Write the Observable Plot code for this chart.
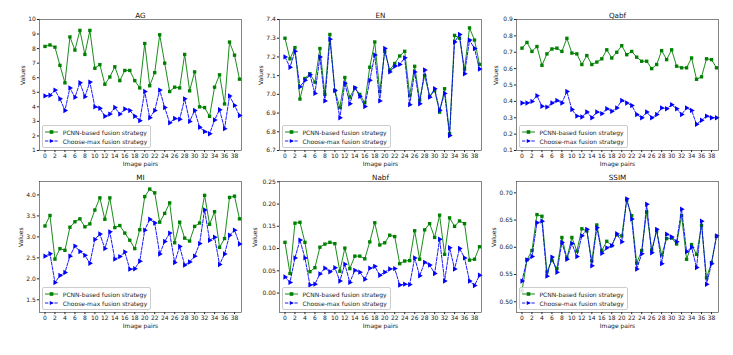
<!DOCTYPE html>
<html><head><meta charset="utf-8">
<script src="https://cdn.jsdelivr.net/npm/d3@7"></script>
<script src="https://cdn.jsdelivr.net/npm/@observablehq/plot@0.6"></script>
<style>
body{margin:0;background:#fff;font-family:"DejaVu Sans",sans-serif;}
#fig{position:relative;width:733px;height:355px;overflow:hidden;}
.panel{position:absolute;}
.legend{position:absolute;border:0.6px solid #ccc;border-radius:2px;background:rgba(255,255,255,0.85);font-size:6px;color:#222;padding:1.5px 3px 1.5px 2px;line-height:9px;white-space:nowrap;}
.legend .row{display:flex;align-items:center;height:9px;}
.legend svg{margin-right:4.5px;}
</style>
</head><body>
<div id="fig"></div>
<script>
const imagePairs = [0,1,2,3,4,5,6,7,8,9,10,11,12,13,14,15,16,17,18,19,20,21,22,23,24,25,26,27,28,29,30,31,32,33,34,35,36,37,38,39];
const xTicks = [0,2,4,6,8,10,12,14,16,18,20,22,24,26,28,30,32,34,36,38];
const seriesNames = ["PCNN-based fusion strategy", "Choose-max fusion strategy"];

const agPCNN = [8.15,8.25,8.1,6.85,5.65,8.8,7.9,9.25,7.6,9.25,6.65,6.9,5.55,6.05,6.75,5.8,6.5,6.5,5.8,5.3,8.35,5.45,6.35,8.95,7.0,5.05,5.35,5.3,7.6,5.1,6.4,4.0,3.95,3.35,5.35,6.2,4.2,8.45,7.55,5.9];
const agMax  = [4.75,4.8,5.15,4.55,3.75,5.3,4.65,5.65,4.7,5.7,4.0,3.9,3.35,3.5,3.95,3.5,3.85,3.75,3.35,3.05,5.05,3.25,3.75,5.15,3.95,2.9,3.2,3.15,4.55,3.0,3.75,2.6,2.3,2.15,3.1,3.8,2.5,4.75,4.1,3.4];
const agTicks = [1,2,3,4,5,6,7,8,9,10];

const enPCNN = [7.30,7.19,7.25,6.975,7.085,7.11,7.065,7.245,7.0,7.32,7.02,6.93,7.09,6.985,7.035,7.0,6.955,7.145,7.28,7.015,7.23,7.13,7.165,7.205,7.23,6.995,7.15,6.97,7.10,6.99,7.02,6.905,7.03,6.79,7.315,7.30,7.135,7.355,7.29,7.16];
const enMax  = [7.20,7.145,7.23,7.04,7.075,7.105,7.005,7.20,6.965,7.295,7.02,6.875,7.06,6.95,7.035,6.99,6.935,7.075,7.21,6.965,7.245,7.12,7.15,7.16,7.195,6.945,7.12,6.95,7.13,6.985,7.03,6.915,7.005,6.78,7.28,7.32,7.11,7.29,7.245,7.135];
const enTicks = [6.7,6.8,6.9,7.0,7.1,7.2,7.3,7.4];

const qabfPCNN = [0.725,0.76,0.705,0.735,0.62,0.69,0.72,0.725,0.705,0.785,0.695,0.69,0.625,0.68,0.625,0.64,0.66,0.715,0.665,0.70,0.74,0.685,0.705,0.67,0.645,0.645,0.60,0.625,0.71,0.655,0.715,0.615,0.605,0.605,0.665,0.535,0.55,0.66,0.655,0.605];
const qabfMax  = [0.39,0.39,0.40,0.435,0.37,0.365,0.39,0.405,0.39,0.46,0.35,0.31,0.305,0.335,0.30,0.335,0.325,0.355,0.34,0.36,0.405,0.39,0.375,0.32,0.30,0.335,0.30,0.32,0.36,0.355,0.38,0.355,0.32,0.36,0.345,0.26,0.285,0.31,0.30,0.30];
const qabfTicks = [0.1,0.2,0.3,0.4,0.5,0.6,0.7,0.8,0.9];

const miPCNN = [3.26,3.51,2.47,2.72,2.68,3.23,3.36,3.43,3.24,3.31,3.64,3.93,3.42,3.93,3.22,3.27,3.09,2.92,2.72,3.17,3.96,4.14,4.05,3.35,3.56,3.81,2.86,3.35,2.97,2.90,3.25,3.33,3.99,3.30,3.60,2.75,2.96,3.94,3.97,3.43];
const miMax  = [2.54,2.60,1.91,2.08,2.15,2.54,2.78,2.65,2.56,2.37,2.94,3.07,2.72,3.12,2.47,2.53,2.64,2.23,2.24,2.42,3.16,3.42,3.33,2.59,2.89,3.09,2.39,2.77,2.33,2.40,2.54,2.84,3.64,2.92,2.99,2.34,2.59,3.04,3.16,2.83];
const miTicks = [1.5,2.0,2.5,3.0,3.5,4.0];

const nabfPCNN = [0.114,0.044,0.157,0.159,0.114,0.048,0.057,0.103,0.110,0.114,0.111,0.049,0.101,0.055,0.083,0.083,0.077,0.115,0.158,0.108,0.113,0.130,0.127,0.066,0.072,0.073,0.140,0.076,0.142,0.156,0.125,0.175,0.087,0.169,0.150,0.162,0.156,0.074,0.076,0.104];
const nabfMax  = [0.036,0.024,0.079,0.119,0.079,0.018,0.020,0.043,0.056,0.048,0.057,0.027,0.065,0.024,0.051,0.047,0.031,0.056,0.060,0.040,0.047,0.054,0.055,0.018,0.020,0.019,0.079,0.039,0.069,0.063,0.044,0.121,0.027,0.102,0.054,0.100,0.079,0.027,0.017,0.040];
const nabfTicks = [0.00,0.05,0.10,0.15,0.20,0.25];

const ssimPCNN = [0.520,0.577,0.594,0.660,0.657,0.555,0.576,0.561,0.618,0.580,0.618,0.593,0.634,0.630,0.575,0.641,0.594,0.611,0.603,0.623,0.621,0.687,0.658,0.571,0.594,0.665,0.595,0.630,0.586,0.616,0.617,0.606,0.658,0.578,0.605,0.587,0.640,0.544,0.572,0.620];
const ssimMax  = [0.538,0.577,0.583,0.645,0.648,0.547,0.582,0.554,0.609,0.578,0.607,0.583,0.621,0.633,0.566,0.636,0.589,0.599,0.603,0.625,0.610,0.689,0.652,0.560,0.588,0.679,0.590,0.633,0.570,0.624,0.619,0.610,0.670,0.592,0.600,0.563,0.648,0.532,0.570,0.621];
const ssimTicks = [0.50,0.55,0.60,0.65,0.70];

const panels = [
  {title:"AG",   pcnn:agPCNN,   max:agMax,   ticks:agTicks,   fmt:d3.format("d"),   domain:[1,10],        col:0,row:0,labelDx:-16},
  {title:"EN",   pcnn:enPCNN,   max:enMax,   ticks:enTicks,   fmt:d3.format(".1f"), domain:[6.7,7.4],     col:1,row:0,labelDx:-18.3},
  {title:"Qabf", pcnn:qabfPCNN, max:qabfMax, ticks:qabfTicks, fmt:d3.format(".1f"), domain:[0.1,0.9],     col:2,row:0,labelDx:-20.3},
  {title:"MI",   pcnn:miPCNN,   max:miMax,   ticks:miTicks,   fmt:d3.format(".1f"), domain:[1.197,4.32],  col:0,row:1,labelDx:-18.6},
  {title:"Nabf", pcnn:nabfPCNN, max:nabfMax, ticks:nabfTicks, fmt:d3.format(".2f"), domain:[-0.0437,0.2507],col:1,row:1,labelDx:-24.3},
  {title:"SSIM", pcnn:ssimPCNN, max:ssimMax, ticks:ssimTicks, fmt:d3.format(".2f"), domain:[0.4803,0.7208],col:2,row:1,labelDx:-22.7}
];

const frameLefts = [39.3, 279, 516];
const frameTops = [19, 181];
const frameW = 202, frameH = 131;
const mL = 39, mR = 5, mT = 19, mB = 30;
const GREEN = "#008000", BLUE = "#0000ff";

const fig = document.getElementById("fig");

function legendSymbol(color, dashed, symbol) {
  const marker = symbol === "square"
    ? `<rect x="4.7" y="1.2" width="3.6" height="3.6" fill="${color}"/>`
    : `<path d="M4.8,1 L8.8,3 L4.8,5 Z" fill="${color}"/>`;
  return `<svg width="13" height="6" viewBox="0 0 13 6"><line x1="0" y1="3" x2="13" y2="3" stroke="${color}" stroke-width="0.9" ${dashed ? 'stroke-dasharray="3.3,1.4"' : ''}/>${marker}</svg>`;
}

panels.forEach(p => {
  const pcnnData = imagePairs.map((x, k) => ({x, v: p.pcnn[k]}));
  const maxData = imagePairs.map((x, k) => ({x, v: p.max[k]}));
  const plot = Plot.plot({
    width: mL + frameW + mR,
    height: mT + frameH + mB,
    marginLeft: mL, marginRight: mR, marginTop: mT, marginBottom: mB,
    style: {fontFamily: "DejaVu Sans, sans-serif", fontSize: "6px", color: "#222", background: "transparent", overflow: "visible"},
    x: {domain: [-1.1, 39.4]},
    y: {domain: p.domain},
    marks: [
      Plot.axisX({ticks: xTicks, tickFormat: d3.format("d"), tickSize: 2.1, tickPadding: 1.5, label: null}),
      Plot.axisY({ticks: p.ticks, tickFormat: p.fmt, tickSize: 2.1, tickPadding: 1.5, label: null}),
      Plot.lineY(pcnnData, {x: "x", y: "v", stroke: GREEN, strokeWidth: 0.9}),
      Plot.dot(pcnnData, {x: "x", y: "v", symbol: "square", r: 1.9, fill: GREEN, stroke: null}),
      Plot.lineY(maxData, {x: "x", y: "v", stroke: BLUE, strokeWidth: 0.9, strokeDasharray: "3.3,1.4"}),
      Plot.dot(maxData, {x: "x", y: "v", symbol: "triangle", rotate: 90, r: 2.0, fill: BLUE, stroke: null}),
      Plot.frame({stroke: "#333", strokeWidth: 0.6}),
      Plot.text([p.title], {text: d => d, frameAnchor: "top", dy: -4, lineAnchor: "middle", fontSize: 7.2, fill: "#111"}),
      Plot.text(["Image pairs"], {text: d => d, frameAnchor: "bottom", dy: 14, lineAnchor: "middle", fontSize: 6, fill: "#111"}),
      Plot.text(["Values"], {text: d => d, frameAnchor: "left", dx: p.labelDx, rotate: -90, lineAnchor: "middle", fontSize: 6, fill: "#111"})
    ]
  });
  const fl = frameLefts[p.col], ft = frameTops[p.row];
  const wrap = document.createElement("div");
  wrap.className = "panel";
  wrap.style.left = (fl - mL) + "px";
  wrap.style.top = (ft - mT) + "px";
  wrap.appendChild(plot);
  fig.appendChild(wrap);

  const leg = document.createElement("div");
  leg.className = "legend";
  leg.innerHTML =
    `<div class="row">${legendSymbol(GREEN, false, "square")}<span>${seriesNames[0]}</span></div>` +
    `<div class="row">${legendSymbol(BLUE, true, "triangle")}<span>${seriesNames[1]}</span></div>`;
  leg.style.left = (fl + 3) + "px";
  leg.style.top = (ft + frameH - 3 - 22) + "px";
  fig.appendChild(leg);
});
</script>
</body></html>
